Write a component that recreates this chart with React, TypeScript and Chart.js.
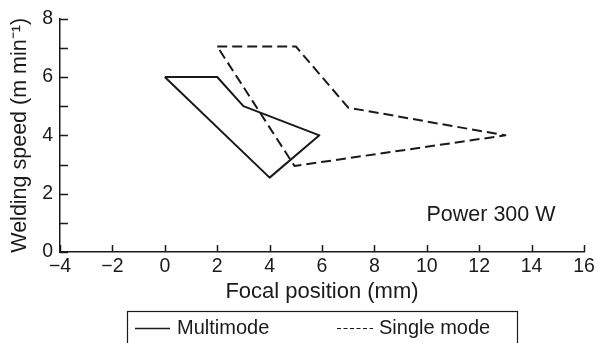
import React, { useEffect, useRef } from "react";
import { Chart, registerables } from "chart.js";

Chart.register(...registerables);

const multimodeX = [0, 2, 3, 5.9, 4, 0];
const multimodeY = [6, 6, 5, 4, 2.55, 6];
const singleX = [2, 5, 7, 13, 4.95, 2];
const singleY = [7.05, 7.05, 4.95, 4, 2.95, 7.05];
const seriesLabels = ["Multimode", "Single mode"];
const xTicks = [-4, -2, 0, 2, 4, 6, 8, 10, 12, 14, 16];
const yTicks = [0, 1, 2, 3, 4, 5, 6, 7, 8];
const annotationText = "Power 300 W";
const annotationAt = { x: 12.45, y: 1.26 };

const FONT = "'Liberation Sans', Arial, Helvetica, sans-serif";
const INK = "#1a1a1a";

const toPoints = (xs: number[], ys: number[]) => xs.map((x, i) => ({ x, y: ys[i] }));

const extrasPlugin = {
  id: "extras",
  afterDraw(chart: any) {
    const ctx = chart.ctx;
    const xs = chart.scales.x;
    const ys = chart.scales.y;
    const area = chart.chartArea;
    ctx.save();
    ctx.strokeStyle = INK;
    ctx.lineWidth = 1.5;
    xTicks.forEach((v) => {
      const px = Math.round(xs.getPixelForValue(v)) + 0.5;
      ctx.beginPath();
      ctx.moveTo(px, area.bottom);
      ctx.lineTo(px, area.bottom - 7);
      ctx.stroke();
    });
    yTicks.forEach((v) => {
      const py = Math.round(ys.getPixelForValue(v)) + 0.5;
      ctx.beginPath();
      ctx.moveTo(area.left, py);
      ctx.lineTo(area.left + 8, py);
      ctx.stroke();
    });
    ctx.fillStyle = INK;
    ctx.font = `21.5px ${FONT}`;
    ctx.textAlign = "center";
    ctx.textBaseline = "middle";
    ctx.fillText(annotationText, xs.getPixelForValue(annotationAt.x), ys.getPixelForValue(annotationAt.y));
    ctx.lineWidth = 1.2;
    ctx.strokeRect(127.5, 311.5, 390, 40);
    const ly = 328.5;
    ctx.lineWidth = 1.6;
    ctx.beginPath();
    ctx.moveTo(135, ly);
    ctx.lineTo(170, ly);
    ctx.stroke();
    ctx.setLineDash([4, 2.5]);
    ctx.lineWidth = 1.2;
    ctx.beginPath();
    ctx.moveTo(337, ly);
    ctx.lineTo(373, ly);
    ctx.stroke();
    ctx.setLineDash([]);
    ctx.font = `20px ${FONT}`;
    ctx.textAlign = "left";
    ctx.textBaseline = "middle";
    ctx.fillText(seriesLabels[0], 177, ly);
    ctx.fillText(seriesLabels[1], 379, ly);
    ctx.restore();
  },
};

export default function App() {
  const ref = useRef<HTMLCanvasElement>(null);
  useEffect(() => {
    if (!ref.current) return;
    const chart = new Chart(ref.current, {
      type: "scatter",
      data: {
        datasets: [
          {
            label: seriesLabels[0],
            data: toPoints(multimodeX, multimodeY),
            showLine: true,
            borderColor: INK,
            borderWidth: 2,
            borderJoinStyle: "round",
            pointRadius: 0,
            tension: 0,
          },
          {
            label: seriesLabels[1],
            data: toPoints(singleX, singleY),
            showLine: true,
            borderColor: INK,
            borderWidth: 2,
            borderJoinStyle: "round",
            borderDash: [10, 5],
            pointRadius: 0,
            tension: 0,
          },
        ],
      },
      options: {
        animation: false,
        responsive: true,
        maintainAspectRatio: false,
        layout: { padding: { top: 14, right: 14, bottom: 37, left: 0 } },
        plugins: { legend: { display: false }, tooltip: { enabled: false } },
        scales: {
          x: {
            type: "linear",
            min: -4,
            max: 16,
            afterFit: (s: any) => {
              s.height = 54;
            },
            grid: { drawOnChartArea: false, drawTicks: false },
            border: { display: true, color: INK, width: 1.5 },
            ticks: {
              stepSize: 2,
              padding: 3,
              color: INK,
              font: { family: FONT, size: 19.5 },
              callback: (v: any) => (v < 0 ? "\u2212" + Math.abs(v) : String(v)),
            },
            title: {
              display: true,
              text: "Focal position (mm)",
              color: INK,
              font: { family: FONT, size: 22 },
              padding: { top: 0, bottom: 1 },
            },
          },
          y: {
            type: "linear",
            min: 0,
            max: 8,
            afterFit: (s: any) => {
              s.width = 60;
            },
            grid: { drawOnChartArea: false, drawTicks: false },
            border: { display: true, color: INK, width: 1.5 },
            ticks: {
              stepSize: 2,
              padding: 7,
              color: INK,
              font: { family: FONT, size: 19.5 },
            },
            title: {
              display: true,
              text: "Welding speed (m min\u207B\u00B9)",
              color: INK,
              font: { family: FONT, size: 21.5 },
              padding: { top: 7, bottom: 0 },
            },
          },
        },
      },
      plugins: [extrasPlugin],
    } as any);
    return () => chart.destroy();
  }, []);
  return (
    <div style={{ position: "absolute", left: 0, top: 0, width: 598, height: 343, background: "#fff" }}>
      <canvas ref={ref} />
    </div>
  );
}
